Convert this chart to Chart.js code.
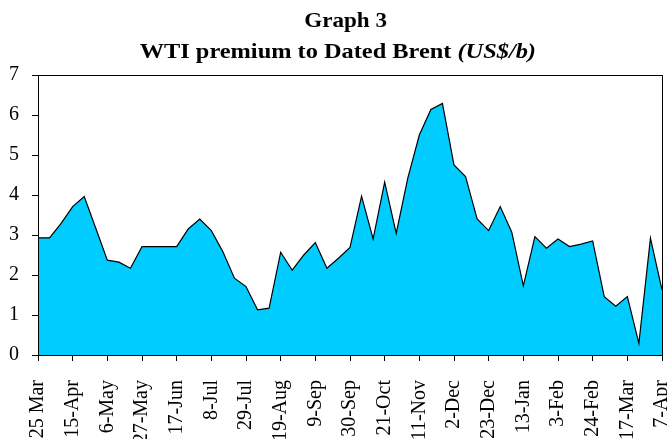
<!DOCTYPE html>
<html>
<head>
<meta charset="utf-8">
<script src="https://cdn.jsdelivr.net/npm/chart.js@4"></script>
<style>
  body { margin:0; background:#fff; overflow:hidden; }
  #wrap { position:relative; width:667px; height:439px; }
  .ttl { position:absolute; left:0; width:667px; text-align:center;
         font-family:"Liberation Serif","Times New Roman",serif; font-weight:bold;
         font-size:21px; line-height:30px; color:#000; white-space:nowrap; }
  .ttl span { display:inline-block; }
</style>
</head>
<body>
<div id="wrap">
  <canvas id="myChart" width="667" height="439"></canvas>
  <div class="ttl" style="top:5px;padding-left:24px;width:643px"><span style="transform:scaleX(1.1)">Graph 3</span></div>
  <div class="ttl" style="top:36px;padding-left:9px;width:658px"><span style="transform:scaleX(1.16)">WTI premium to Dated Brent <i>(US$/b)</i></span></div>
</div>
<script>
  // weekly dates, every 3rd one is labelled
  const weeks = ['25 Mar','1-Apr','8-Apr','15-Apr','22-Apr','29-Apr','6-May','13-May','20-May','27-May',
    '3-Jun','10-Jun','17-Jun','24-Jun','1-Jul','8-Jul','15-Jul','22-Jul','29-Jul','5-Aug',
    '12-Aug','19-Aug','26-Aug','2-Sep','9-Sep','16-Sep','23-Sep','30-Sep','7-Oct','14-Oct',
    '21-Oct','28-Oct','4-Nov','11-Nov','18-Nov','25-Nov','2-Dec','9-Dec','16-Dec','23-Dec',
    '30-Dec','6-Jan','13-Jan','20-Jan','27-Jan','3-Feb','10-Feb','17-Feb','24-Feb','3-Mar',
    '10-Mar','17-Mar','24-Mar','31-Mar','7-Apr'];

  const premium = [2.93,2.93,3.29,3.71,3.96,3.17,2.37,2.32,2.17,2.71,
    2.71,2.71,2.71,3.15,3.40,3.11,2.58,1.92,1.71,1.13,
    1.17,2.57,2.12,2.50,2.81,2.17,2.42,2.69,3.97,2.90,
    4.32,3.04,4.42,5.50,6.14,6.29,4.75,4.46,3.40,3.11,
    3.71,3.07,1.73,2.96,2.67,2.90,2.71,2.77,2.85,1.46,
    1.22,1.46,0.29,2.92,1.63];

  const yTicks = [0,1,2,3,4,5,6,7];

  const tickFont = { family:'"Liberation Serif","Times New Roman",serif', size:20 };

  const boxPlugin = {
    id:'box',
    afterDatasetsDraw(chart){
      const a = chart.chartArea, c = chart.ctx;
      c.save();
      c.strokeStyle = '#000';
      c.lineWidth = 1;
      c.strokeRect(Math.round(a.left)+0.5, Math.round(a.top)+0.5,
        Math.round(a.right-a.left), Math.round(a.bottom-a.top));
      c.restore();
    }
  };

  const ctx = document.getElementById('myChart');

  new Chart(ctx, {
    type:'line',
    data:{
      labels:weeks,
      datasets:[{
        data:premium,
        borderColor:'#000',
        borderWidth:1.2,
        backgroundColor:'#00CCFF',
        fill:'origin',
        pointRadius:0,
        tension:0
      }]
    },
    options:{
      responsive:false,
      animation:false,
      layout:{ padding:{ top:75, right:5, left:0, bottom:0 } },
      plugins:{ legend:{ display:false }, tooltip:{ enabled:false } },
      scales:{
        x:{
          offset:false,
          afterFit(s){ s.height = 84; s.paddingLeft = 0; s.paddingRight = 5; },
          border:{ color:'#000', width:1 },
          grid:{
            drawOnChartArea:false,
            tickLength:6,
            tickColor:(c)=> c.index % 3 === 0 ? '#000' : 'rgba(0,0,0,0)'
          },
          ticks:{
            autoSkip:false,
            maxRotation:90,
            minRotation:90,
            padding:19,
            color:'#000',
            font:tickFont,
            callback:function(v, i){ return i % 3 === 0 ? weeks[i] : ''; }
          }
        },
        y:{
          min:yTicks[0],
          max:yTicks[yTicks.length-1],
          afterFit(s){ s.width = 38; s.paddingTop = 0; s.paddingBottom = 0; },
          border:{ color:'#000', width:1 },
          grid:{ drawOnChartArea:false, tickLength:6, color:'#000' },
          ticks:{ stepSize:1, padding:13, color:'#000', font:tickFont }
        }
      }
    },
    plugins:[boxPlugin]
  });
</script>
</body>
</html>
